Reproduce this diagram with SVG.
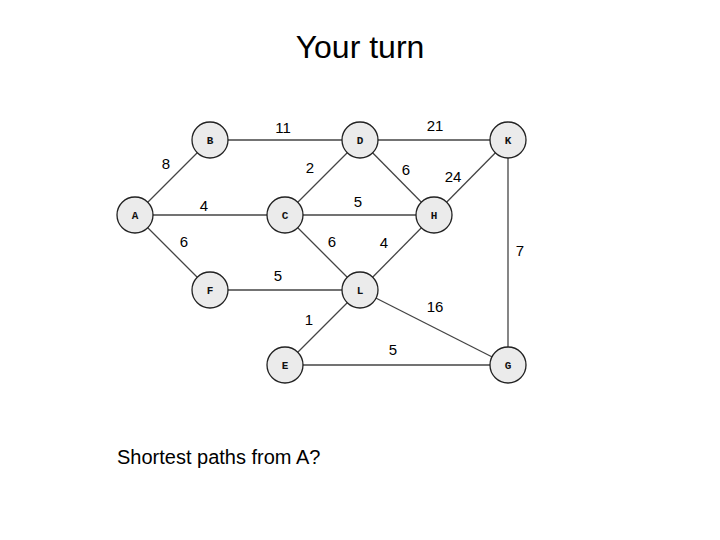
<svg xmlns="http://www.w3.org/2000/svg" width="720" height="540" viewBox="0 0 720 540">
<style>
.e{stroke:#444;stroke-width:1.3;fill:none}
.n circle{fill:#ebebeb;stroke:#222;stroke-width:1.3}
.n text{font-family:"Liberation Mono",monospace;font-weight:bold;font-size:11px;text-anchor:middle;fill:#111}
.w{font-family:"Liberation Sans",Arial,sans-serif;font-size:15px;fill:#000;text-anchor:middle}
</style>
<rect width="720" height="540" fill="#fff"/>
<text x="360" y="58" font-family="Liberation Sans,Arial,sans-serif" font-size="32" text-anchor="middle">Your turn</text>
<g id="connectors">
<line class="e" x1="135" y1="215" x2="210" y2="140"/>
<line class="e" x1="210" y1="140" x2="360" y2="140"/>
<line class="e" x1="360" y1="140" x2="508" y2="140"/>
<line class="e" x1="135" y1="215" x2="434" y2="215"/>
<line class="e" x1="285" y1="215" x2="360" y2="140"/>
<line class="e" x1="360" y1="140" x2="434" y2="215"/>
<line class="e" x1="434" y1="215" x2="508" y2="140"/>
<line class="e" x1="508" y1="140" x2="508" y2="365"/>
<line class="e" x1="135" y1="215" x2="210" y2="290"/>
<line class="e" x1="210" y1="290" x2="360" y2="290"/>
<line class="e" x1="285" y1="215" x2="360" y2="290"/>
<line class="e" x1="434" y1="215" x2="360" y2="290"/>
<line class="e" x1="360" y1="290" x2="508" y2="365"/>
<line class="e" x1="360" y1="290" x2="285" y2="365"/>
<line class="e" x1="285" y1="365" x2="508" y2="365"/>
<text class="w" x="166" y="169">8</text>
<text class="w" x="283" y="133">11</text>
<text class="w" x="435" y="131">21</text>
<text class="w" x="204" y="211">4</text>
<text class="w" x="310" y="173">2</text>
<text class="w" x="406" y="175">6</text>
<text class="w" x="453" y="182">24</text>
<text class="w" x="358" y="207">5</text>
<text class="w" x="184" y="247">6</text>
<text class="w" x="332" y="247">6</text>
<text class="w" x="384" y="248">4</text>
<text class="w" x="520" y="256">7</text>
<text class="w" x="278" y="281">5</text>
<text class="w" x="435" y="312">16</text>
<text class="w" x="309" y="325">1</text>
<text class="w" x="393" y="355">5</text>
</g>
<g id="A" class="n"><circle cx="135" cy="215" r="18"/><text x="135" y="219">A</text></g>
<g id="B" class="n"><circle cx="210" cy="140" r="18"/><text x="210" y="144">B</text></g>
<g id="C" class="n"><circle cx="285" cy="215" r="18"/><text x="285" y="219">C</text></g>
<g id="D" class="n"><circle cx="360" cy="140" r="18"/><text x="360" y="144">D</text></g>
<g id="K" class="n"><circle cx="508" cy="140" r="18"/><text x="508" y="144">K</text></g>
<g id="H" class="n"><circle cx="434" cy="215" r="18"/><text x="434" y="219">H</text></g>
<g id="F" class="n"><circle cx="210" cy="290" r="18"/><text x="210" y="294">F</text></g>
<g id="L" class="n"><circle cx="360" cy="290" r="18"/><text x="360" y="294">L</text></g>
<g id="E" class="n"><circle cx="285" cy="365" r="18"/><text x="285" y="369">E</text></g>
<g id="G" class="n"><circle cx="508" cy="365" r="18"/><text x="508" y="369">G</text></g>
<text x="117" y="464" font-family="Liberation Sans,Arial,sans-serif" font-size="20">Shortest paths from A?</text>
</svg>
